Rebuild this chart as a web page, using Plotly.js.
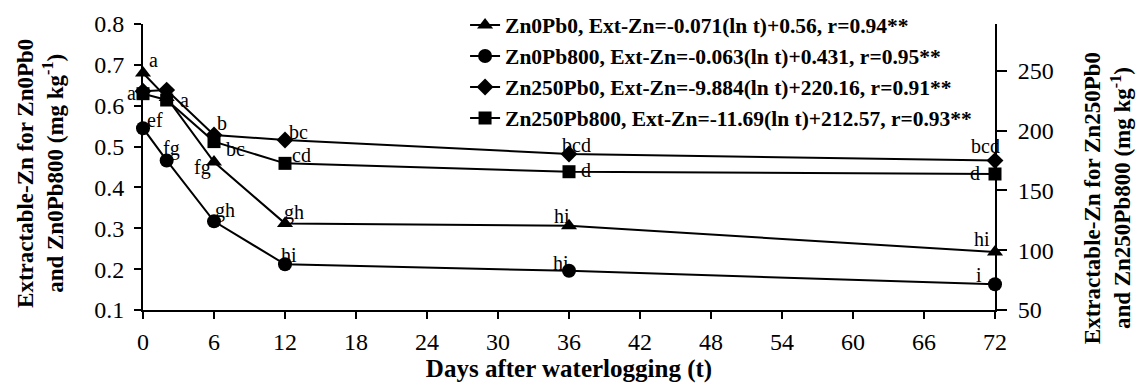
<!DOCTYPE html>
<html>
<head>
<meta charset="utf-8">
<script src="https://cdn.plot.ly/plotly-3.0.1.min.js"></script>
<style>html,body{margin:0;padding:0;background:#fff;}#chart{width:1136px;height:385px;}</style>
</head>
<body>
<div id="chart"></div>
<script>
// Days after waterlogging
const days = [0, 2, 6, 12, 36, 72];

// Series names (legend text)
const names = [
  "Zn0Pb0, Ext-Zn=-0.071(ln t)+0.56, r=0.94**",
  "Zn0Pb800, Ext-Zn=-0.063(ln t)+0.431, r=0.95**",
  "Zn250Pb0, Ext-Zn=-9.884(ln t)+220.16, r=0.91**",
  "Zn250Pb800, Ext-Zn=-11.69(ln t)+212.57, r=0.93**"
];

// Values (left axis: Zn0 series, right axis: Zn250 series), mg kg-1
const zn0pb0     = [0.680, 0.620, 0.462, 0.312, 0.306, 0.242];
const zn0pb800   = [0.545, 0.466, 0.317, 0.212, 0.196, 0.163];
const zn250pb0   = [233.0, 234.0, 196.4, 192.3, 180.5, 175.0];
const zn250pb800 = [231.0, 225.7, 190.9, 172.7, 165.7, 163.8];

// Significance letters
const lab_zn0pb0     = ["a", "", "fg", "gh", "hi", "hi"];
const lab_zn0pb800   = ["ef", "fg", "gh", "hi", "hi", "i"];
const lab_zn250pb0   = ["a", "", "b", "bc", "bcd", "bcd"];
const lab_zn250pb800 = ["", "a", "bc", "cd", "d", "d"];

// Tick labels
const xTicks = [0, 6, 12, 18, 24, 30, 36, 42, 48, 54, 60, 66, 72];
const yLeftTicks = [0.1, 0.2, 0.3, 0.4, 0.5, 0.6, 0.7, 0.8];
const yRightTicks = [50, 100, 150, 200, 250];

const FONT = "Liberation Serif";

// label offsets in screen pixels (right, down)
const series = [
  {y: zn0pb0, lab: lab_zn0pb0, axis: "y", sym: "triangle-up", size: 14,
   shifts: [[10,-13],[0,0],[-12,5],[9,-11],[-7,-10],[-13,-13]]},
  {y: zn0pb800, lab: lab_zn0pb800, axis: "y", sym: "circle", size: 14,
   shifts: [[12,-8],[5,-12],[11,-11],[4,-9],[-8,-8],[-16,-9]]},
  {y: zn250pb0, lab: lab_zn250pb0, axis: "y2", sym: "diamond", size: 13,
   shifts: [[-12,2],[0,0],[8,-12],[13,-8],[7,-9],[-10,-15]]},
  {y: zn250pb800, lab: lab_zn250pb800, axis: "y2", sym: "square", size: 13,
   shifts: [[0,0],[18,0],[21,7],[16,-8],[17,-2],[-20,-1]]}
];

const traces = series.map((s, i) => ({
  type: "scatter", mode: "lines+markers",
  x: days, y: s.y, yaxis: s.axis, name: names[i],
  line: {color: "#000", width: 2},
  marker: {symbol: s.sym, size: s.size, color: "#000"},
  cliponaxis: false
}));

const annotations = [];
series.forEach(s => {
  s.y.forEach((v, j) => {
    if (!s.lab[j]) return;
    annotations.push({
      x: days[j], y: v, xref: "x", yref: s.axis, text: s.lab[j],
      showarrow: false, xshift: s.shifts[j][0], yshift: -s.shifts[j][1],
      font: {family: FONT, size: 20, color: "#000"}
    });
  });
});

// axis titles
annotations.push({
  xref: "paper", yref: "paper", x: -0.121, y: 0.479, textangle: -90,
  xanchor: "center", yanchor: "middle",
  text: "Extractable-Zn for Zn0Pb0<br>and Zn0Pb800 (mg kg<sup>-1</sup>)",
  showarrow: false, font: {family: FONT, size: 23, color: "#000", weight: "bold"}
});
annotations.push({
  xref: "paper", yref: "paper", x: 1.133, y: 0.392, textangle: -90,
  xanchor: "center", yanchor: "middle",
  text: "Extractable-Zn for Zn250Pb0<br>and Zn250Pb800 (mg kg<sup>-1</sup>)",
  showarrow: false, font: {family: FONT, size: 23, color: "#000", weight: "bold"}
});

const layout = {
  width: 1136, height: 385,
  margin: {l: 143, r: 141, t: 24, b: 75, autoexpand: false},
  paper_bgcolor: "#fff", plot_bgcolor: "#fff",
  font: {family: FONT, color: "#000"},
  showlegend: true,
  legend: {
    x: 0.378, y: 1.068, xanchor: "left", yanchor: "top",
    bgcolor: "rgba(0,0,0,0)",
    font: {family: FONT, size: 21.5, color: "#000", weight: "bold"}
  },
  xaxis: {
    range: [0, 72], tickvals: xTicks, ticktext: xTicks.map(String),
    showgrid: false, zeroline: false, showline: true, linecolor: "#000", linewidth: 2,
    ticks: "outside", ticklen: 7, tickwidth: 2, tickcolor: "#000",
    tickfont: {family: FONT, size: 24, color: "#000"}, ticklabelstandoff: 2,
    title: {text: "Days after waterlogging (t)", font: {family: FONT, size: 25, weight: "bold"}, standoff: 0}
  },
  yaxis: {
    range: [0.1, 0.8], tickvals: yLeftTicks, ticktext: yLeftTicks.map(v => v.toFixed(1)),
    showgrid: false, zeroline: false, showline: true, linecolor: "#000", linewidth: 2,
    ticks: "outside", ticklen: 7, tickwidth: 2, tickcolor: "#000",
    tickfont: {family: FONT, size: 24, color: "#000"}, ticklabelstandoff: 5
  },
  yaxis2: {
    overlaying: "y", side: "right", range: [50, 289.3], tickvals: yRightTicks,
    showgrid: false, zeroline: false, showline: true, linecolor: "#000", linewidth: 2,
    ticks: "outside", ticklen: 10, tickwidth: 2, tickcolor: "#000",
    tickfont: {family: FONT, size: 24, color: "#000"}, ticklabelstandoff: 6
  },
  annotations: annotations
};

Plotly.newPlot("chart", traces, layout, {displayModeBar: false, staticPlot: true});
</script>
</body>
</html>
